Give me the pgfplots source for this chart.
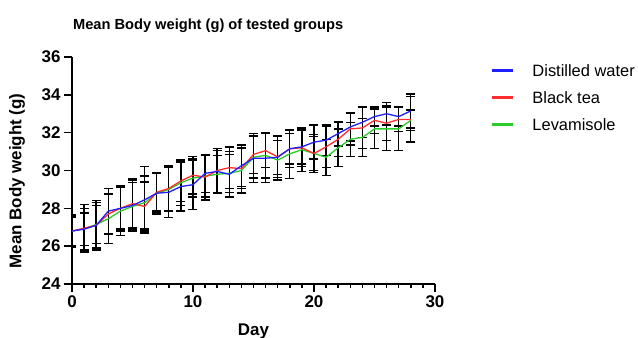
\documentclass[border=0pt]{standalone}
\usepackage{pgfplots}
\usepackage{pgfplotstable}
\pgfplotsset{compat=1.18}
\usepackage{fontspec}
\setmainfont{Liberation Sans}
\definecolor{lineblue}{RGB}{30,30,255}
\definecolor{linered}{RGB}{255,45,45}
\definecolor{linegreen}{RGB}{40,205,40}
\pgfplotstableread{
x  b     bs    r     rs    g     gs
0  26.80 0.85  26.80 0.80  26.80 0.75
1  26.90 1.10  26.95 1.25  26.90 0.85
2  27.10 1.20  27.10 1.30  27.15 1.00
3  27.85 1.20  27.70 1.05  27.45 1.30
4  28.00 1.20  28.00 1.10  27.85 1.30
5  28.15 1.35  28.25 1.30  28.10 1.25
6  28.45 1.75  28.10 1.30  28.30 1.40
7  28.80 1.05  28.85 1.00  28.80 1.10
8  28.85 1.35  29.05 1.20  29.00 1.15
9  29.15 1.30  29.45 1.10  29.35 1.20
10 29.25 1.30  29.75 1.00  29.60 1.00
11 29.85 1.00  29.65 1.20  29.70 1.10
12 29.95 1.10  30.00 1.15  29.80 1.00
13 29.80 1.20  30.15 1.10  29.85 1.00
14 30.25 1.10  30.10 1.05  30.00 1.20
15 30.65 1.30  30.85 1.00  30.70 1.10
16 30.65 1.30  31.05 0.90  30.80 1.20
17 30.70 0.90  30.72 1.10  30.55 1.05
18 31.15 0.80  31.15 1.00  30.88 1.30
19 31.25 0.90  31.20 1.00  31.10 1.15
20 31.50 0.90  30.90 1.00  30.90 0.90
21 31.60 0.80  31.25 1.10  30.70 0.95
22 31.95 0.65  31.65 0.90  31.20 1.00
23 32.30 0.75  32.20 0.85  31.65 0.90
24 32.55 0.80  32.25 1.10  31.75 1.00
25 32.85 0.50  32.65 0.70  32.20 1.05
26 33.00 0.60  32.50 0.90  32.20 1.15
27 32.85 0.50  32.70 0.65  32.20 1.15
28 33.15 0.90  32.70 1.20  32.65 0.55
}\data
\begin{document}
\begin{tikzpicture}
\path[use as bounding box] (-72bp,-54bp) rectangle (566bp,284bp);
\begin{axis}[
  at={(0,0)}, anchor=south west,
  scale only axis, width=363bp, height=227bp,
  xmin=0, xmax=30, ymin=24, ymax=36,
  axis lines=left,
  axis line style={-, line width=1.8bp},
  tick align=outside,
  major tick length=8bp, minor tick length=4bp,
  every tick/.style={black, line width=1.5bp},
  xtick={0,10,20,30}, minor x tick num=9,
  ytick={24,26,...,36},
  /pgf/number format/assume math mode=true,
  ticklabel style={font=\bfseries\fontsize{17}{17}\selectfont},
  title={Mean Body weight (g) of tested groups},
  title style={at={(rel axis cs:0.375,1)}, anchor=base, yshift=22bp, font=\bfseries\fontsize{14.7}{15}\selectfont},
  xlabel={Day},
  xlabel style={at={(rel axis cs:0.5,0)}, anchor=base, yshift=-51bp, font=\bfseries\fontsize{17}{17}\selectfont},
  ylabel={Mean Body weight (g)},
  ylabel style={at={(rel axis cs:-0.1515,0.4537)}, anchor=center, font=\bfseries\fontsize{17}{17}\selectfont},
  legend style={draw=none, fill=none, at={(rel axis cs:1.157,0.967)}, anchor=north west,
    inner sep=0pt, font=\fontsize{16.5}{16.5}\selectfont,
    nodes={inner sep=0pt, text height=12bp, text depth=0bp},
    row sep=15bp,
    /tikz/every odd column/.style={column sep=19bp}},
  legend cell align=left,
  reverse legend,
]
\pgfplotsset{errstyle/.style={draw=none, mark=none, forget plot,
  error bars/.cd, y dir=both, y explicit,
  error bar style={black, line width=1.4bp},
  error mark options={rotate=90, mark size=4.5bp, line width=1.4bp, black}}}
\addplot[errstyle] table[x=x, y=b, y error=bs] {\data};
\addplot[errstyle] table[x=x, y=r, y error=rs] {\data};
\addplot[errstyle] table[x=x, y=g, y error=gs] {\data};
\addplot[color=linegreen, line width=1.3bp, mark=none,
  legend image code/.code={\fill[linegreen] (0bp,-0.55bp) rectangle (20bp,0.55bp);}] table[x=x, y=g] {\data};
\addlegendentry{Levamisole}
\addplot[color=linered, line width=1.3bp, mark=none,
  legend image code/.code={\fill[linered] (0bp,-0.55bp) rectangle (20bp,0.55bp);}] table[x=x, y=r] {\data};
\addlegendentry{Black tea}
\addplot[color=lineblue, line width=1.3bp, mark=none,
  legend image code/.code={\fill[lineblue] (0bp,-0.55bp) rectangle (20bp,0.55bp);}] table[x=x, y=b] {\data};
\addlegendentry{Distilled water}
\end{axis}
\end{tikzpicture}
\end{document}
